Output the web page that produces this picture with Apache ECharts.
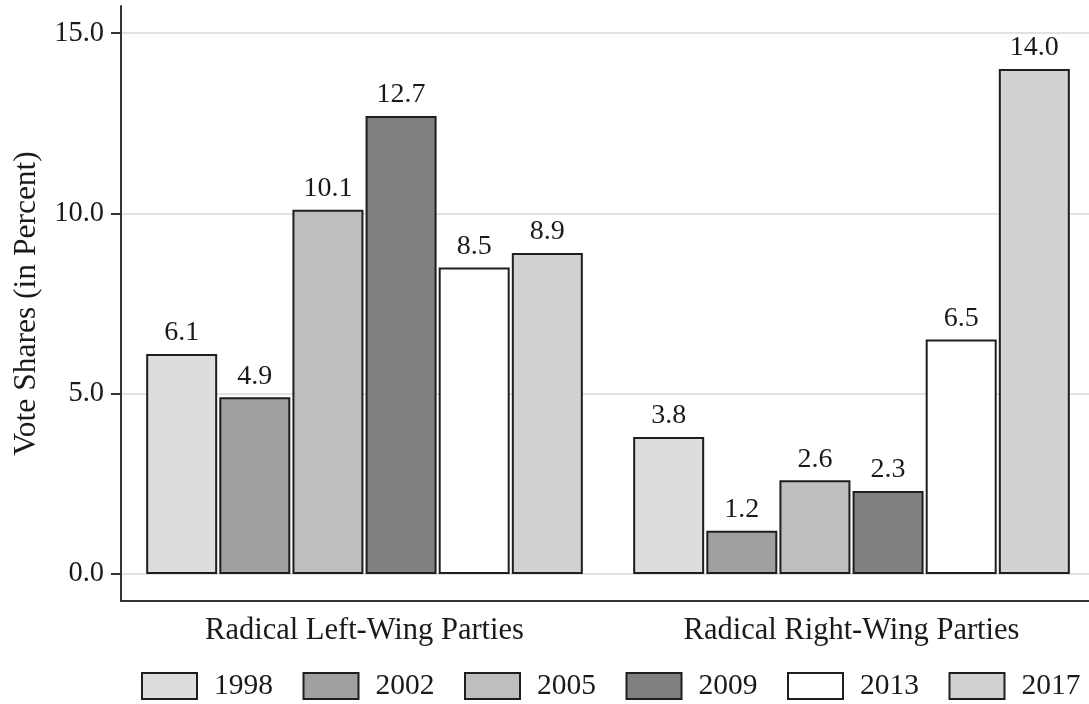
<!DOCTYPE html>
<html>
<head>
<meta charset="utf-8">
<script src="https://cdn.jsdelivr.net/npm/echarts@6/dist/echarts.min.js"></script>
<style>
  html, body { margin: 0; padding: 0; background: #fff; }
  #main { width: 1089px; height: 704px; }
</style>
</head>
<body>
<div id="main"></div>
<script>
var categories = ['Radical Left-Wing Parties', 'Radical Right-Wing Parties']
var years = ['1998', '2002', '2005', '2009', '2013', '2017']
var shares = [
  [6.1, 3.8],   // 1998
  [4.9, 1.2],   // 2002
  [10.1, 2.6],  // 2005
  [12.7, 2.3],  // 2009
  [8.5, 6.5],   // 2013
  [8.9, 14.0]   // 2017
]
var yTicks = [0, 5, 10, 15]
var fills = ['#dddddd', '#a0a0a0', '#bebebe', '#808080', '#ffffff', '#d1d1d1']

var font = 'Liberation Serif'
var ink = '#1a1a1a'

var series = []
for (var i = 0; i < years.length; i++) {
  series.push({
    name: years[i],
    type: 'bar',
    data: shares[i],
    barWidth: 71,
    barGap: '3%',
    itemStyle: { color: fills[i], borderColor: '#1e1e1e', borderWidth: 2 },
    label: {
      show: true,
      position: 'top',
      distance: 7,
      fontFamily: font,
      fontSize: 28,
      color: ink,
      formatter: function (p) { return p.value.toFixed(1) }
    }
  })
}

var chart = echarts.init(document.getElementById('main'))
chart.setOption({
  animation: false,
  textStyle: { fontFamily: font },
  grid: { left: 121, right: -6, top: 6, bottom: 103, outerBoundsMode: 'none', containLabel: false },
  legend: {
    data: years,
    icon: 'rect',
    left: 141,
    top: 671,
    width: 1000,
    padding: 0,
    itemWidth: 55,
    itemHeight: 26,
    itemGap: 29.5,
    textStyle: { fontFamily: font, fontSize: 29.5, color: ink, padding: [0, 0, 0, 12] }
  },
  xAxis: {
    type: 'category',
    data: categories,
    axisLine: { show: true, onZero: false, lineStyle: { color: '#333', width: 2 } },
    axisTick: { show: false },
    axisLabel: { fontFamily: font, fontSize: 30.5, color: ink, margin: 14 }
  },
  yAxis: {
    type: 'value',
    min: -0.75,
    max: 15.75,
    name: 'Vote Shares (in Percent)',
    nameLocation: 'middle',
    nameGap: 78,
    nameTextStyle: { fontFamily: font, fontSize: 31.5, color: ink },
    axisLine: { show: true, lineStyle: { color: '#333', width: 2 } },
    axisTick: { show: true, length: 10, customValues: yTicks, lineStyle: { color: '#333', width: 2 } },
    axisLabel: {
      customValues: yTicks,
      fontFamily: font, fontSize: 28.5, color: ink, margin: 17,
      formatter: function (v) { return v.toFixed(1) }
    },
    splitLine: { show: true, lineStyle: { color: '#d9d9d9', width: 1.5 } }
  },
  series: series
})
</script>
</body>
</html>
